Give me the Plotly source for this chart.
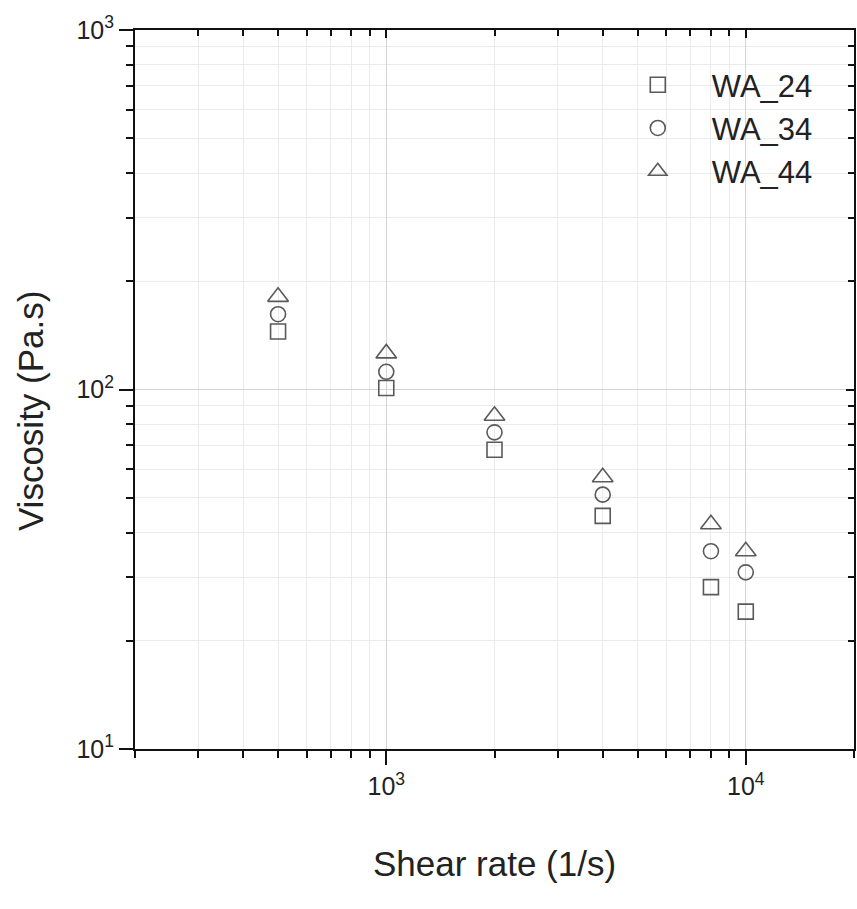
import plotly.graph_objects as go

shear_rate = [500, 1000, 2000, 4000, 8000, 10000]
wa_24 = [145, 101, 68, 44.5, 28.2, 24.1]
wa_34 = [162, 112, 76, 51, 35.5, 31]
wa_44 = [181, 126, 84.5, 57, 42.2, 35.5]
series_names = ["WA_24", "WA_34", "WA_44"]
symbols = ["square-open", "circle-open", "triangle-up-open"]
marker_sizes = [15, 15, 18]

x_major = [1000, 10000]
x_major_text = ["10<sup>3</sup>", "10<sup>4</sup>"]
y_major = [10, 100, 1000]
y_major_text = ["10<sup>1</sup>", "10<sup>2</sup>", "10<sup>3</sup>"]

x_minor = [m * 10**e for e in (2, 3, 4) for m in range(2, 10) if 200 <= m * 10**e <= 20000]
y_minor = [m * 10**e for e in (1, 2) for m in range(2, 10)]

fig = go.Figure()
for name, vals, sym, sz in zip(series_names, [wa_24, wa_34, wa_44], symbols, marker_sizes):
    fig.add_trace(go.Scatter(
        x=shear_rate, y=vals, mode="markers", name=name,
        marker=dict(symbol=sym, size=sz,
                    color="#5a5a5a", line=dict(width=1.6, color="#5a5a5a")),
    ))
# companion axes for inward mirror ticks
fig.add_trace(go.Scatter(x=[None], y=[None], xaxis="x2", yaxis="y2",
                         showlegend=False, hoverinfo="skip"))

font_family = "Liberation Sans, Arial, sans-serif"
xr = [2.30103, 4.30103]
yr = [1, 3]

fig.update_layout(
    width=857, height=909,
    margin=dict(l=135, r=3, t=30, b=160),
    plot_bgcolor="white", paper_bgcolor="white",
    font=dict(family=font_family, size=25, color="#222222"),
    showlegend=True,
    legend=dict(x=0.652, y=0.961, xanchor="left", yanchor="top",
                bgcolor="rgba(0,0,0,0)", font=dict(size=31, color="#222222"),
                itemwidth=98, tracegroupgap=0),
    xaxis=dict(
        type="log", range=xr, tickvals=x_major, ticktext=x_major_text,
        tickfont=dict(size=25),
        ticks="outside", ticklen=14, tickwidth=2, tickcolor="#111",
        showline=True, linecolor="#111", linewidth=2,
        showgrid=True, gridcolor="#d4d4d4", gridwidth=1,
        minor=dict(tickvals=x_minor, ticks="outside", ticklen=7, tickwidth=2,
                   tickcolor="#111", showgrid=True, gridcolor="#ebebeb", gridwidth=1),
        zeroline=False,
        title=dict(text="Shear rate (1/s)", font=dict(size=35), standoff=52),
    ),
    yaxis=dict(
        type="log", range=yr, tickvals=y_major, ticktext=y_major_text,
        tickfont=dict(size=25),
        ticks="outside", ticklen=14, tickwidth=2, tickcolor="#111",
        showline=True, linecolor="#111", linewidth=2,
        showgrid=True, gridcolor="#d4d4d4", gridwidth=1,
        minor=dict(tickvals=y_minor, ticks="outside", ticklen=7, tickwidth=2,
                   tickcolor="#111", showgrid=True, gridcolor="#ebebeb", gridwidth=1),
        zeroline=False,
    ),
    xaxis2=dict(
        type="log", range=xr, overlaying="x", side="top", anchor="y2",
        tickvals=x_major, showticklabels=False,
        ticks="inside", ticklen=8, tickwidth=2, tickcolor="#111",
        showline=True, linecolor="#111", linewidth=2, showgrid=False,
        minor=dict(tickvals=x_minor, ticks="inside", ticklen=6, tickwidth=2,
                   tickcolor="#111", showgrid=False),
        zeroline=False,
    ),
    yaxis2=dict(
        type="log", range=yr, overlaying="y", side="right", anchor="x2",
        tickvals=y_major, showticklabels=False,
        ticks="inside", ticklen=8, tickwidth=2, tickcolor="#111",
        showline=True, linecolor="#111", linewidth=2, showgrid=False,
        minor=dict(tickvals=y_minor, ticks="inside", ticklen=6, tickwidth=2,
                   tickcolor="#111", showgrid=False),
        zeroline=False,
    ),
    annotations=[dict(
        text="Viscosity (Pa.s)", textangle=-90, showarrow=False,
        xref="paper", yref="paper", x=-0.146, y=0.470,
        xanchor="center", yanchor="middle",
        font=dict(size=35, family=font_family, color="#222222"),
    )],
)

fig.write_html("out.html")
